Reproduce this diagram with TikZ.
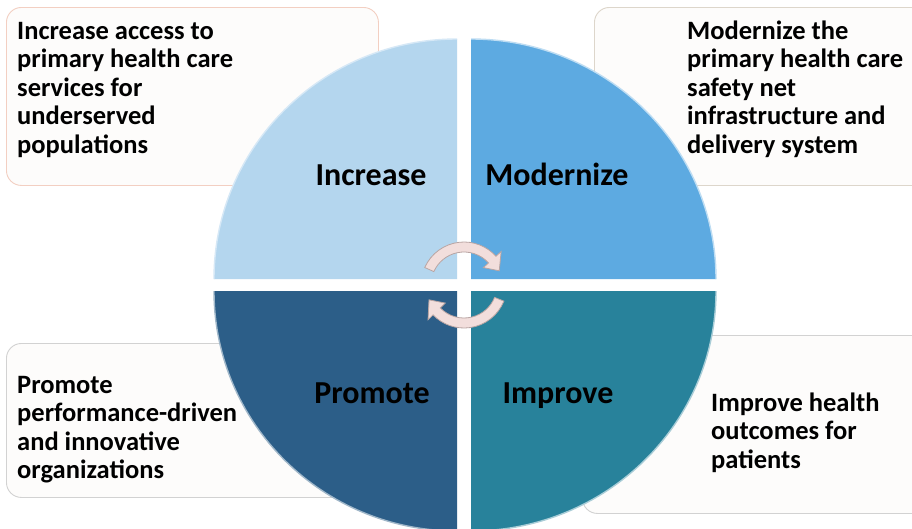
\documentclass[tikz,border=0pt]{standalone}
\usepackage{fontspec}
\setmainfont{Carlito}
\definecolor{qTL}{HTML}{B4D6EE}
\definecolor{qTR}{HTML}{5DAAE1}
\definecolor{qBL}{HTML}{2C5E88}
\definecolor{qBR}{HTML}{28829B}
\definecolor{boxfill}{HTML}{FDFCFB}
\definecolor{edgeI}{HTML}{F3CFC2}
\definecolor{edgeM}{HTML}{DDD6CB}
\definecolor{edgeP}{HTML}{D2D2D2}
\definecolor{arrowfill}{HTML}{F2DEDC}
\definecolor{arrowedge}{HTML}{B9A5A3}
\begin{document}
\begin{tikzpicture}[x=1pt,y=-1pt,
  box/.style={rounded corners=15pt, fill=boxfill, line width=0.9pt, anchor=north west, inner sep=0pt},
  boxtext/.style={font=\bfseries\fontsize{26.5}{28.6}\selectfont, align=left, inner sep=0pt, anchor=base west},
  quadlabel/.style={font=\bfseries\fontsize{32}{36}\selectfont, inner sep=0pt, anchor=base},
  quad/.style={line width=1.4pt},
  cyc/.style={fill=arrowfill, draw=arrowedge, line width=0.8pt}]
\clip (0,0) rectangle (912,528);
\fill[white] (0,0) rectangle (912,528);
% text boxes
\node[box, draw=edgeI, minimum width=372pt, minimum height=178pt] (boxI) at (6,7) {};
\node[box, draw=edgeM, minimum width=340pt, minimum height=178pt] (boxM) at (594,7) {};
\node[box, draw=edgeP, minimum width=376pt, minimum height=154pt] (boxP) at (6,343) {};
\node[box, draw=edgeP, minimum width=350pt, minimum height=178pt] (boxR) at (582,335) {};
% quadrants
\fill[qTL] (457,279) -- ++(-243,0) arc[start angle=180, end angle=270, x radius=243, y radius=240] -- cycle;
\draw[quad, draw=qTL!55!white] (214,279) arc[start angle=180, end angle=270, x radius=243, y radius=240];
\fill[qTR] (471,279) -- ++(0,-240) arc[start angle=270, end angle=360, x radius=245, y radius=240] -- cycle;
\draw[quad, draw=qTR!40!white] (471,39) arc[start angle=270, end angle=360, x radius=245, y radius=240];
\fill[qBL] (457,291) -- ++(-243,0) arc[start angle=180, end angle=90, x radius=243, y radius=240] -- cycle;
\draw[quad, draw=qBL!45!white] (214,291) arc[start angle=180, end angle=90, x radius=243, y radius=240];
\fill[qBR] (471,291) -- ++(245,0) arc[start angle=0, end angle=90, x radius=245, y radius=240] -- cycle;
\draw[quad, draw=qBR!40!white] (716,291) arc[start angle=0, end angle=90, x radius=245, y radius=240];
% cycle arrows
\begin{scope}[shift={(464,285)}]
\draw[cyc] (204:43) arc[start angle=204, end angle=318, radius=43] -- (318:50) -- (338:38) -- (318:26) -- (318:33) arc[start angle=318, end angle=204, radius=33] -- cycle;
\draw[cyc] (22:43) arc[start angle=22, end angle=136, radius=43] -- (136:50) -- (157:38) -- (136:26) -- (136:33) arc[start angle=136, end angle=22, radius=33] -- cycle;
\end{scope}
% quadrant labels
\node[quadlabel] (lI) at (371,185) {Increase};
\node[quadlabel] (lM) at (557,185) {Modernize};
\node[quadlabel] (lP) at (372,403) {Promote};
\node[quadlabel] (lR) at (558,403) {Improve};
% box texts (anchor = baseline of last line)
\node[boxtext] (tI) at (17,153.4) {Increase access to\\primary health care\\services for\\underserved\\populations};
\node[boxtext] (tM) at (687,153.4) {Modernize the\\primary health care\\safety net\\infrastructure and\\delivery system};
\node[boxtext] (tP) at (17,478.8) {Promote\\performance-driven\\and innovative\\organizations};
\node[boxtext] (tR) at (711,468.2) {Improve health\\outcomes for\\patients};
\end{tikzpicture}
\end{document}
